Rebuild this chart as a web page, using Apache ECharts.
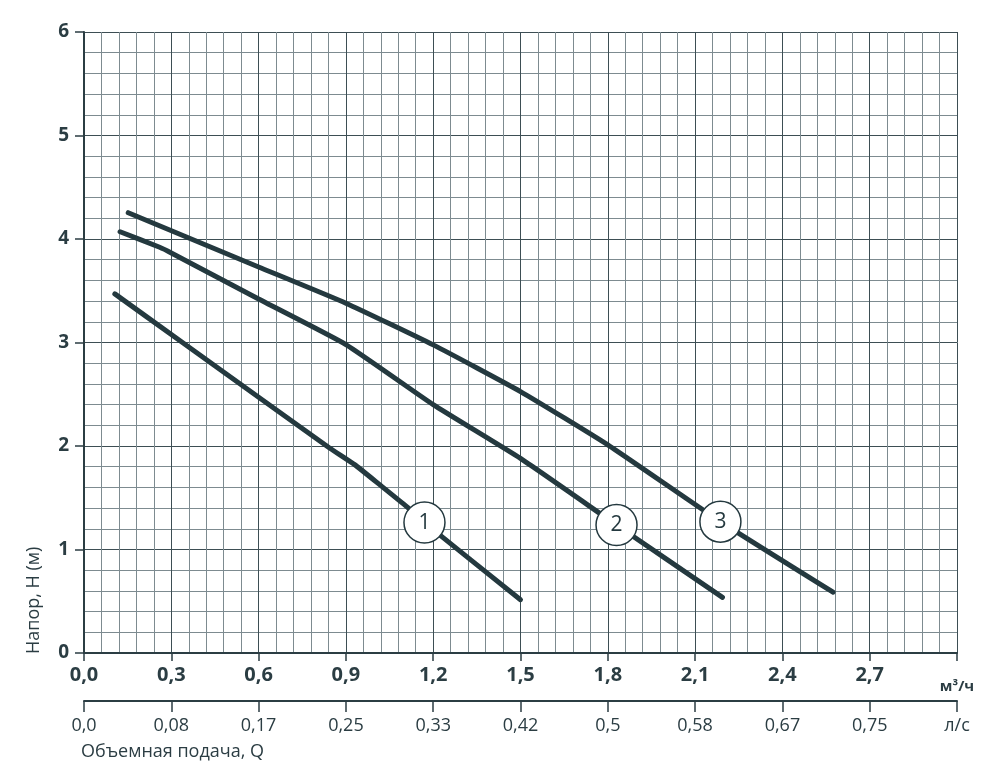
<!DOCTYPE html>
<html>
<head>
<meta charset="utf-8">
<script src="https://cdn.jsdelivr.net/npm/echarts@6/dist/echarts.min.js"></script>
<style>
html,body{margin:0;padding:0;background:#fff;}
#chart{width:1000px;height:782px;}
</style>
</head>
<body>
<div id="chart"></div>
<script>
// Tick labels
var xTickLabels = ['0,0','0,3','0,6','0,9','1,2','1,5','1,8','2,1','2,4','2,7','м³/ч'];
var lsTickLabels = ['0,0','0,08','0,17','0,25','0,33','0,42','0,5','0,58','0,67','0,75','л/с'];
var yTickLabels = ['0','1','2','3','4','5','6'];

// Curves: [Q m³/h, H m]
var curve1 = [[0.106,3.47],[0.33,3.016],[0.605,2.462],[0.845,1.979],[0.93,1.82],[1.017,1.624],[1.109,1.414],[1.17,1.26],[1.5,0.515]];
var curve2 = [[0.124,4.07],[0.26,3.92],[0.3,3.865],[0.6,3.42],[0.9,2.98],[1.2,2.40],[1.5,1.88],[1.83,1.237],[2.194,0.538]];
var curve3 = [[0.152,4.254],[0.6,3.73],[0.9,3.38],[1.2,2.977],[1.5,2.526],[1.8,2.011],[2.187,1.269],[2.574,0.587]];

// Curve number badges
var badgeX = [1.17, 1.83, 2.187];
var badgeY = [1.26, 1.237, 1.269];
var badgeText = ['1','2','3'];

var FONT = '"Open Sans", "Noto Sans", sans-serif';
var DARK = '#2b3d43';
var LINE = '#24393f';

var chart = echarts.init(document.getElementById('chart'), null, {renderer:'canvas'});

function curveSeries(data){
  return {
    type:'line', data:data, xAxisIndex:0, yAxisIndex:0,
    symbol:'none', smooth:0.15, z:3,
    lineStyle:{color:LINE, width:5, cap:'round', join:'round'}
  };
}

var badgeData = badgeX.map(function(x,i){ return {value:[x, badgeY[i]], name:badgeText[i]}; });

var option = {
  backgroundColor:'#ffffff',
  animation:false,
  grid:{left:84, right:43, top:32, bottom:129, containLabel:false},
  xAxis:[{
    type:'value', min:0, max:3, interval:0.3, position:'bottom',
    axisLine:{show:true, onZero:false, lineStyle:{color:DARK, width:2}},
    axisTick:{show:true, length:8, lineStyle:{color:DARK, width:1.5}},
    axisLabel:{
      margin:12, fontFamily:FONT, fontWeight:'bold', fontSize:20, color:DARK,
      formatter:function(v, i){
        var k = Math.round(v/0.3);
        if (k === xTickLabels.length-1) return '{u|' + xTickLabels[k] + '}';
        return xTickLabels[k];
      },
      rich:{u:{fontFamily:FONT, fontWeight:'bold', fontSize:15, color:DARK, padding:[14,0,0,0]}}
    },
    splitLine:{show:true, lineStyle:{color:'#3d4e54', width:1}},
    minorTick:{show:false, splitNumber:5},
    minorSplitLine:{show:true, lineStyle:{color:'#7d8b90', width:1}}
  },{
    type:'value', min:0, max:3, interval:0.3, position:'bottom', offset:48,
    axisLine:{show:true, onZero:false, lineStyle:{color:DARK, width:2}},
    axisTick:{show:true, length:11, lineStyle:{color:DARK, width:1.5}},
    axisLabel:{
      margin:16, fontFamily:FONT, fontSize:18, color:DARK,
      formatter:function(v){ return lsTickLabels[Math.round(v/0.3)]; }
    },
    splitLine:{show:false}
  }],
  yAxis:[{
    type:'value', min:0, max:6, interval:1,
    axisLine:{show:true, onZero:false, lineStyle:{color:DARK, width:2}},
    axisTick:{show:true, length:9, lineStyle:{color:DARK, width:1.5}},
    axisLabel:{
      margin:15, fontFamily:FONT, fontWeight:'bold', fontSize:19, color:DARK,
      formatter:function(v){ return yTickLabels[Math.round(v)]; }
    },
    splitLine:{show:true, lineStyle:{color:'#3d4e54', width:1}},
    minorTick:{show:false, splitNumber:5},
    minorSplitLine:{show:true, lineStyle:{color:'#7d8b90', width:1}}
  }],
  graphic:[
    {type:'text', x:43, y:654, rotation:Math.PI/2, z:10,
     style:{text:'Напор, Н (м)', font:'18px ' + FONT, fill:DARK, textAlign:'left', textVerticalAlign:'bottom'}},
    {type:'text', x:81, y:752, z:10,
     style:{text:'Объемная подача, Q', font:'18px ' + FONT, fill:DARK, textAlign:'left', textVerticalAlign:'middle'}}
  ],
  series:[
    curveSeries(curve1),
    curveSeries(curve2),
    curveSeries(curve3),
    {
      type:'scatter', data:badgeData, z:5,
      symbol:'circle', symbolSize:41,
      itemStyle:{color:'#ffffff', borderColor:LINE, borderWidth:1.5, opacity:1},
      label:{show:true, position:'inside', formatter:function(p){return p.name;},
             fontFamily:FONT, fontSize:21, color:LINE},
      emphasis:{disabled:true}
    }
  ]
};
chart.setOption(option);
</script>
</body>
</html>
